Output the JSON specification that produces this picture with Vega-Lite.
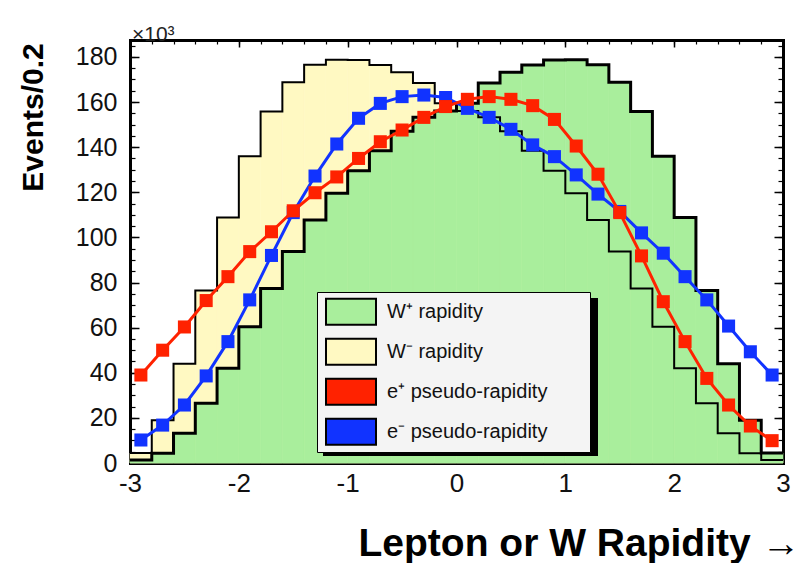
{
  "$schema": "https://vega.github.io/schema/vega-lite/v6.json",
  "width": 653,
  "height": 423,
  "autosize": {"type": "none"},
  "padding": {"left": 130, "top": 40, "right": 26, "bottom": 100},
  "background": "white",
  "title": {"text": "\u00d710\u00b3", "anchor": "start", "frame": "group", "orient": "top", "offset": 5, "baseline": "alphabetic", "fontSize": 21, "fontWeight": "normal", "color": "#222", "dx": 2, "dy": 28},
  "datasets": {
    "hist": [
      {"lo": -3.0, "hi": -2.8, "wp": 1.3, "wm": 4.4},
      {"lo": -2.8, "hi": -2.6, "wp": 4.3, "wm": 19},
      {"lo": -2.6, "hi": -2.4, "wp": 13.2, "wm": 44},
      {"lo": -2.4, "hi": -2.2, "wp": 26.5, "wm": 76.5},
      {"lo": -2.2, "hi": -2.0, "wp": 42, "wm": 108.8},
      {"lo": -2.0, "hi": -1.8, "wp": 60.4, "wm": 136},
      {"lo": -1.8, "hi": -1.6, "wp": 77.4, "wm": 155.8},
      {"lo": -1.6, "hi": -1.4, "wp": 93.7, "wm": 168.8},
      {"lo": -1.4, "hi": -1.2, "wp": 107.7, "wm": 176.5},
      {"lo": -1.2, "hi": -1.0, "wp": 119.6, "wm": 178.8},
      {"lo": -1.0, "hi": -0.8, "wp": 129.5, "wm": 178.6},
      {"lo": -0.8, "hi": -0.6, "wp": 138.4, "wm": 176.4},
      {"lo": -0.6, "hi": -0.4, "wp": 147, "wm": 173.2},
      {"lo": -0.4, "hi": -0.2, "wp": 153.3, "wm": 168.4},
      {"lo": -0.2, "hi": 0.0, "wp": 156, "wm": 159.5},
      {"lo": 0.0, "hi": 0.2, "wp": 159.5, "wm": 156},
      {"lo": 0.2, "hi": 0.4, "wp": 168.4, "wm": 153.3},
      {"lo": 0.4, "hi": 0.6, "wp": 173.2, "wm": 147},
      {"lo": 0.6, "hi": 0.8, "wp": 176.4, "wm": 138.4},
      {"lo": 0.8, "hi": 1.0, "wp": 178.6, "wm": 129.5},
      {"lo": 1.0, "hi": 1.2, "wp": 178.8, "wm": 119.6},
      {"lo": 1.2, "hi": 1.4, "wp": 176.5, "wm": 107.7},
      {"lo": 1.4, "hi": 1.6, "wp": 168.8, "wm": 93.7},
      {"lo": 1.6, "hi": 1.8, "wp": 155.8, "wm": 77.4},
      {"lo": 1.8, "hi": 2.0, "wp": 136, "wm": 60.4},
      {"lo": 2.0, "hi": 2.2, "wp": 108.8, "wm": 42},
      {"lo": 2.2, "hi": 2.4, "wp": 76.5, "wm": 26.5},
      {"lo": 2.4, "hi": 2.6, "wp": 44, "wm": 13.2},
      {"lo": 2.6, "hi": 2.8, "wp": 19, "wm": 4.3},
      {"lo": 2.8, "hi": 3.0, "wp": 4.4, "wm": 1.3}
    ],
    "lep": [
      {"eta": -2.9, "ep": 39, "em": 10.2},
      {"eta": -2.7, "ep": 50, "em": 16.8},
      {"eta": -2.5, "ep": 60.3, "em": 25.7},
      {"eta": -2.3, "ep": 72, "em": 38.6},
      {"eta": -2.1, "ep": 82.6, "em": 53.8},
      {"eta": -1.9, "ep": 93.7, "em": 72.3},
      {"eta": -1.7, "ep": 102.5, "em": 92},
      {"eta": -1.5, "ep": 111.8, "em": 111},
      {"eta": -1.3, "ep": 119.8, "em": 127.2},
      {"eta": -1.1, "ep": 126.8, "em": 141.4},
      {"eta": -0.9, "ep": 135, "em": 152.8},
      {"eta": -0.7, "ep": 142.4, "em": 159.4},
      {"eta": -0.5, "ep": 147.6, "em": 162.4},
      {"eta": -0.3, "ep": 153.2, "em": 163.1},
      {"eta": -0.1, "ep": 158, "em": 162},
      {"eta": 0.1, "ep": 161.2, "em": 157.2},
      {"eta": 0.3, "ep": 162.4, "em": 153.2},
      {"eta": 0.5, "ep": 161.2, "em": 147.9},
      {"eta": 0.7, "ep": 158.4, "em": 141},
      {"eta": 0.9, "ep": 152.3, "em": 135.8},
      {"eta": 1.1, "ep": 140.5, "em": 127.7},
      {"eta": 1.3, "ep": 128, "em": 119.2},
      {"eta": 1.5, "ep": 111, "em": 111.5},
      {"eta": 1.7, "ep": 91.8, "em": 102},
      {"eta": 1.9, "ep": 71.5, "em": 93},
      {"eta": 2.1, "ep": 53.8, "em": 82.6},
      {"eta": 2.3, "ep": 37.5, "em": 72.3},
      {"eta": 2.5, "ep": 25.7, "em": 60.7},
      {"eta": 2.7, "ep": 16.4, "em": 49.3},
      {"eta": 2.9, "ep": 9.9, "em": 39}
    ]
  },
  "layer": [
    {
      "data": {"name": "hist"},
      "mark": {"type": "rect", "stroke": "#fff9c2", "strokeWidth": 0.6},
      "encoding": {
        "x": {"field": "lo", "type": "quantitative", "scale": {"domain": [-3, 3], "nice": false, "zero": false},
          "axis": {"orient": "bottom", "values": [-3, -2, -1, 0, 1, 2, 3], "tickSize": -7, "tickWidth": 1.5, "labelFontSize": 26, "labelPadding": 14, "labelExpr": "'' + datum.value", "labelFlush": false, "labelOverlap": false, "domain": true, "domainWidth": 3, "domainCap": "square",
            "title": "Lepton or W Rapidity \u2192", "titleFontSize": 39, "titleFontWeight": "bold", "titleAlign": "right", "titleAnchor": "end", "titleX": 670, "titleY": 92, "titleBaseline": "alphabetic"}},
        "x2": {"field": "hi"},
        "y": {"field": "wm", "type": "quantitative", "scale": {"domain": [0, 187.5], "nice": false},
          "axis": {"orient": "left", "values": [0, 20, 40, 60, 80, 100, 120, 140, 160, 180], "tickSize": -9, "tickWidth": 1.5, "labelFontSize": 25, "labelPadding": 22, "labelExpr": "'' + datum.value", "labelOverlap": false, "domain": true, "domainWidth": 3, "domainCap": "square",
            "title": "Events/0.2", "titleFontSize": 30, "titleFontWeight": "bold", "titleAngle": 270, "titleAlign": "center", "titleBaseline": "alphabetic", "titleX": -88, "titleY": 77}},
        "y2": {"datum": 0},
        "color": {"datum": "W\u207b rapidity", "type": "nominal",
          "scale": {"domain": ["W\u207a rapidity", "W\u207b rapidity", "e\u207a pseudo-rapidity", "e\u207b pseudo-rapidity"], "range": ["#a9ee9c", "#fff9c2", "#ff2200", "#1133ff"]},
          "legend": {"orient": "none", "legendX": 187, "legendY": 252, "padding": 0, "fillColor": "#f4f4f4", "strokeColor": "black", "symbolType": "M-1,-0.52L1,-0.52L1,0.52L-1,0.52Z", "symbolSize": 2500, "symbolStrokeColor": "black", "symbolStrokeWidth": 2, "symbolOpacity": 1, "symbolOffset": 8, "labelOffset": 10, "clipHeight": 39.5, "rowPadding": 0, "labelFontSize": 20, "labelColor": "#111", "labelLimit": 500,
            "title": "MMM", "titleOrient": "right", "titleColor": "#f4f4f4", "titleFontSize": 17, "titleFontWeight": "normal", "titlePadding": 0,
            "zindex": 3,
            "encode": {"legend": {"strokeWidth": {"value": 2}}}}}
      }
    },
    {
      "data": {"name": "hist"},
      "mark": {"type": "rect", "stroke": "#a9ee9c", "strokeWidth": 0.6},
      "encoding": {
        "x": {"field": "lo", "type": "quantitative", "scale": {"domain": [-3, 3], "nice": false, "zero": false},
          "axis": {"orient": "bottom", "values": [-3, -2.8, -2.6, -2.4, -2.2, -2, -1.8, -1.6, -1.4, -1.2, -1, -0.8, -0.6, -0.4, -0.2, 0, 0.2, 0.4, 0.6, 0.8, 1, 1.2, 1.4, 1.6, 1.8, 2, 2.2, 2.4, 2.6, 2.8, 3], "tickSize": -4, "tickWidth": 1.2, "labels": false, "domain": false, "title": null}},
        "x2": {"field": "hi"},
        "y": {"field": "wp", "type": "quantitative", "scale": {"domain": [0, 187.5], "nice": false},
          "axis": {"orient": "left", "values": [0, 5, 10, 15, 20, 25, 30, 35, 40, 45, 50, 55, 60, 65, 70, 75, 80, 85, 90, 95, 100, 105, 110, 115, 120, 125, 130, 135, 140, 145, 150, 155, 160, 165, 170, 175, 180, 185], "tickSize": -5, "tickWidth": 1.2, "labels": false, "domain": false, "title": null}},
        "y2": {"datum": 0},
        "color": {"datum": "W\u207a rapidity", "type": "nominal",
          "scale": {"domain": ["W\u207a rapidity", "W\u207b rapidity", "e\u207a pseudo-rapidity", "e\u207b pseudo-rapidity"], "range": ["#a9ee9c", "#fff9c2", "#ff2200", "#1133ff"]}}
      }
    },
    {
      "data": {"name": "hist"},
      "transform": [
        {"fold": ["lo", "hi"], "as": ["side", "edge"]},
        {"window": [{"op": "row_number", "as": "ord"}], "sort": [{"field": "lo"}, {"field": "edge"}]}
      ],
      "mark": {"type": "line", "color": "black", "strokeWidth": 2, "strokeJoin": "miter"},
      "encoding": {
        "x": {"field": "edge", "type": "quantitative", "scale": {"domain": [-3, 3], "nice": false, "zero": false},
          "axis": {"orient": "top", "values": [-3, -2, -1, 0, 1, 2, 3], "tickSize": -7, "tickWidth": 1.5, "labels": false, "domain": true, "domainWidth": 3, "domainCap": "square", "title": null}},
        "y": {"field": "wm", "type": "quantitative", "scale": {"domain": [0, 187.5], "nice": false},
          "axis": {"orient": "right", "values": [0, 20, 40, 60, 80, 100, 120, 140, 160, 180], "tickSize": -9, "tickWidth": 1.5, "labels": false, "domain": true, "domainWidth": 3, "domainCap": "square", "title": null}},
        "order": {"field": "ord", "type": "quantitative"}
      }
    },
    {
      "data": {"name": "hist"},
      "transform": [
        {"fold": ["lo", "hi"], "as": ["side", "edge"]},
        {"window": [{"op": "row_number", "as": "ord"}], "sort": [{"field": "lo"}, {"field": "edge"}]}
      ],
      "mark": {"type": "line", "color": "black", "strokeWidth": 3, "strokeJoin": "miter"},
      "encoding": {
        "x": {"field": "edge", "type": "quantitative", "scale": {"domain": [-3, 3], "nice": false, "zero": false},
          "axis": {"orient": "top", "values": [-3, -2.8, -2.6, -2.4, -2.2, -2, -1.8, -1.6, -1.4, -1.2, -1, -0.8, -0.6, -0.4, -0.2, 0, 0.2, 0.4, 0.6, 0.8, 1, 1.2, 1.4, 1.6, 1.8, 2, 2.2, 2.4, 2.6, 2.8, 3], "tickSize": -4, "tickWidth": 1.2, "labels": false, "domain": false, "title": null}},
        "y": {"field": "wp", "type": "quantitative", "scale": {"domain": [0, 187.5], "nice": false},
          "axis": {"orient": "right", "values": [0, 5, 10, 15, 20, 25, 30, 35, 40, 45, 50, 55, 60, 65, 70, 75, 80, 85, 90, 95, 100, 105, 110, 115, 120, 125, 130, 135, 140, 145, 150, 155, 160, 165, 170, 175, 180, 185], "tickSize": -5, "tickWidth": 1.2, "labels": false, "domain": false, "title": null}},
        "order": {"field": "ord", "type": "quantitative"},
        "strokeDash": {"datum": "shadow", "type": "nominal", "scale": {"range": [[1, 0]]},
          "legend": {"orient": "none", "legendX": 193, "legendY": 258, "title": null, "padding": 0, "labelExpr": "''", "labelOffset": 0, "symbolType": "M-1,-0.5745L1,-0.5745L1,0.5745L-1,0.5745Z", "symbolSize": 75625, "clipHeight": 158, "symbolFillColor": "black", "symbolStrokeWidth": 0, "zindex": 2,
            "encode": {"symbols": {"fill": {"value": "black"}, "fillOpacity": {"value": 1}, "opacity": {"value": 1}, "strokeWidth": {"value": 0}, "size": {"value": 75625}, "shape": {"value": "M-1,-0.5745L1,-0.5745L1,0.5745L-1,0.5745Z"}}}}}
      }
    },
    {
      "data": {"name": "lep"},
      "mark": {"type": "line", "strokeWidth": 3, "color": "#1133ff"},
      "encoding": {
        "x": {"field": "eta", "type": "quantitative", "scale": {"domain": [-3, 3], "nice": false, "zero": false}, "axis": null},
        "y": {"field": "em", "type": "quantitative", "scale": {"domain": [0, 187.5], "nice": false}, "axis": null}
      }
    },
    {
      "data": {"name": "lep"},
      "mark": {"type": "square", "filled": true, "size": 170, "opacity": 1},
      "encoding": {
        "x": {"field": "eta", "type": "quantitative", "scale": {"domain": [-3, 3], "nice": false, "zero": false}, "axis": null},
        "y": {"field": "em", "type": "quantitative", "scale": {"domain": [0, 187.5], "nice": false}, "axis": null},
        "color": {"datum": "e\u207b pseudo-rapidity", "type": "nominal",
          "scale": {"domain": ["W\u207a rapidity", "W\u207b rapidity", "e\u207a pseudo-rapidity", "e\u207b pseudo-rapidity"], "range": ["#a9ee9c", "#fff9c2", "#ff2200", "#1133ff"]}}
      }
    },
    {
      "data": {"name": "lep"},
      "mark": {"type": "line", "strokeWidth": 3, "color": "#ff2200"},
      "encoding": {
        "x": {"field": "eta", "type": "quantitative", "scale": {"domain": [-3, 3], "nice": false, "zero": false}, "axis": null},
        "y": {"field": "ep", "type": "quantitative", "scale": {"domain": [0, 187.5], "nice": false}, "axis": null}
      }
    },
    {
      "data": {"name": "lep"},
      "mark": {"type": "square", "filled": true, "size": 170, "opacity": 1},
      "encoding": {
        "x": {"field": "eta", "type": "quantitative", "scale": {"domain": [-3, 3], "nice": false, "zero": false}, "axis": null},
        "y": {"field": "ep", "type": "quantitative", "scale": {"domain": [0, 187.5], "nice": false}, "axis": null},
        "color": {"datum": "e\u207a pseudo-rapidity", "type": "nominal",
          "scale": {"domain": ["W\u207a rapidity", "W\u207b rapidity", "e\u207a pseudo-rapidity", "e\u207b pseudo-rapidity"], "range": ["#a9ee9c", "#fff9c2", "#ff2200", "#1133ff"]}}
      }
    }
  ],
  "resolve": {"scale": {"x": "shared", "y": "shared", "color": "shared"}, "axis": {"x": "independent", "y": "independent"}},
  "config": {
    "font": "Liberation Sans",
    "view": {"stroke": null},
    "axis": {"grid": false, "zindex": 1, "tickColor": "black", "domainColor": "black", "labelColor": "#111", "titleColor": "black", "labelFont": "Liberation Sans", "titleFont": "Liberation Sans"},
    "legend": {"labelFont": "Liberation Sans", "titleFont": "Liberation Sans"}
  }
}
